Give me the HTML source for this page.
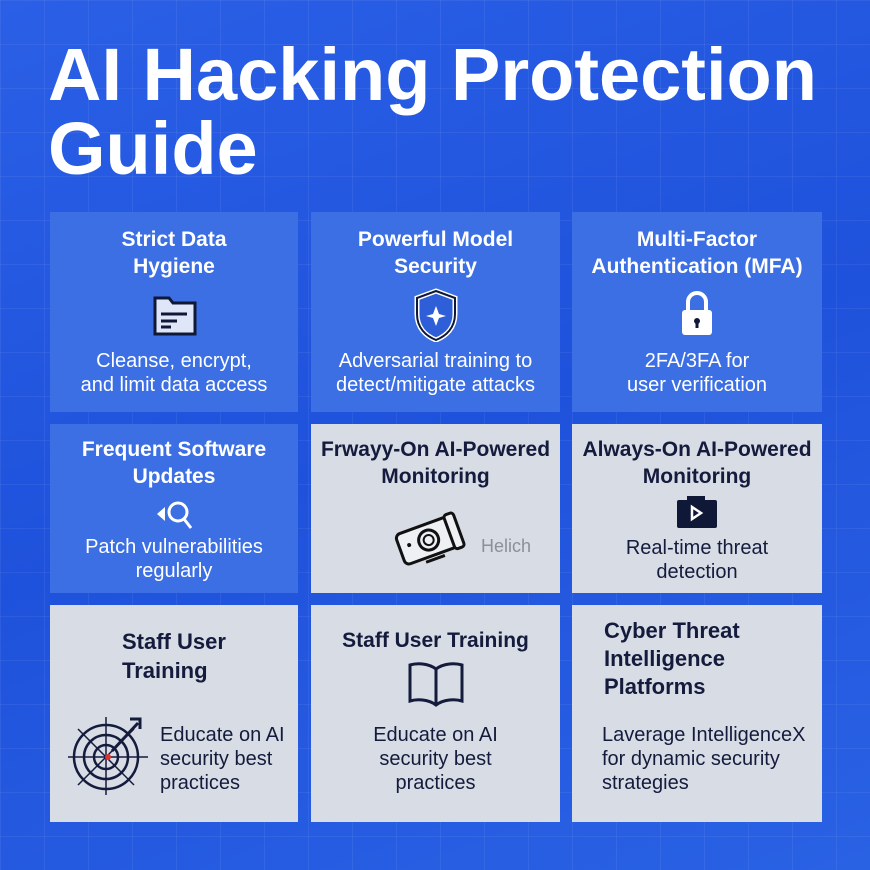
<!DOCTYPE html>
<html><head><style>
body{margin:0;width:870px;height:870px;overflow:hidden;font-family:"Liberation Sans",sans-serif;}
#bg{position:absolute;left:0;top:0;width:870px;height:870px;
background-image:linear-gradient(rgba(255,255,255,0.06) 1px,transparent 1px),linear-gradient(90deg,rgba(255,255,255,0.06) 1px,transparent 1px),linear-gradient(160deg,#2a5fe6 0%,#1f52dc 50%,#2a62e4 100%);
background-size:44px 44px,44px 44px,100% 100%;}
h1{position:absolute;left:48px;top:38px;margin:0;color:#fff;font-size:74px;line-height:74px;font-weight:bold;letter-spacing:0px;white-space:nowrap;}
.c{position:absolute;box-sizing:border-box;text-align:center;}
.b{background:#3b6fe3;color:#fff;}
.g{background:#d8dde5;color:#141b3c;}
.t{position:absolute;left:0;right:0;font-weight:bold;font-size:21px;line-height:27px;}
.d{position:absolute;left:0;right:0;font-size:20px;line-height:24px;}
svg{position:absolute;}
</style></head><body>
<div id="bg"></div>
<h1>AI Hacking Protection<br>Guide</h1>

<div class="c b" style="left:50px;top:212px;width:248px;height:200px">
<div class="t" style="top:14px">Strict Data<br>Hygiene</div>
<svg style="left:103px;top:82px" width="44" height="42" viewBox="0 0 44 42"><path d="M2 4h14l4 5h22v31H2z" fill="#dfe6f8" stroke="#101838" stroke-width="3"/><path d="M8 20h26M8 27h16M8 33h10" stroke="#101838" stroke-width="3"/></svg>
<div class="d" style="top:137px">Cleanse, encrypt,<br>and limit data access</div></div>

<div class="c b" style="left:311px;top:212px;width:249px;height:200px">
<div class="t" style="top:14px">Powerful Model<br>Security</div>
<svg style="left:102px;top:76px" width="46" height="54" viewBox="0 0 46 54"><path d="M23 3L42 10v16c0 14-9 22-19 26C13 48 4 40 4 26V10z" fill="#2f5fd8" stroke="#fff" stroke-width="5"/><path d="M23 3L42 10v16c0 14-9 22-19 26C13 48 4 40 4 26V10z" fill="none" stroke="#101838" stroke-width="2"/><path d="M23 18l3 8 7 2-7 2-3 8-3-8-7-2 7-2z" fill="#fff"/></svg>
<div class="d" style="top:137px">Adversarial training to<br>detect/mitigate attacks</div></div>

<div class="c b" style="left:572px;top:212px;width:250px;height:200px">
<div class="t" style="top:14px">Multi-Factor<br>Authentication (MFA)</div>
<svg style="left:107px;top:78px" width="36" height="48" viewBox="0 0 36 48"><path d="M9 20V12a9 9 0 0118 0v8" fill="none" stroke="#fff" stroke-width="4"/><rect x="3" y="20" width="30" height="25" rx="3" fill="#fff"/><circle cx="18" cy="31" r="3" fill="#101838"/><rect x="16.5" y="31" width="3" height="7" fill="#101838"/></svg>
<div class="d" style="top:137px">2FA/3FA for<br>user verification</div></div>

<div class="c b" style="left:50px;top:424px;width:248px;height:169px">
<div class="t" style="top:12px">Frequent Software<br>Updates</div>
<svg style="left:104px;top:74px" width="40" height="34" viewBox="0 0 40 34"><circle cx="24" cy="14" r="9" fill="none" stroke="#fff" stroke-width="3"/><path d="M30 21l7 9" stroke="#fff" stroke-width="3"/><path d="M3 16l8-7v14z" fill="#fff"/></svg>
<div class="d" style="top:111px">Patch vulnerabilities<br>regularly</div></div>

<div class="c g" style="left:311px;top:424px;width:249px;height:169px">
<div class="t" style="top:12px">Frwayy-On AI-Powered<br>Monitoring</div>
<svg style="left:80px;top:86px" width="76" height="62" viewBox="0 0 76 62"><g transform="rotate(-20 38 31)"><rect x="8" y="14" width="56" height="32" rx="5" fill="#eef0f4" stroke="#111" stroke-width="3"/><circle cx="38" cy="30" r="10" fill="none" stroke="#111" stroke-width="3"/><circle cx="38" cy="30" r="5" fill="none" stroke="#111" stroke-width="2"/><rect x="60" y="12" width="10" height="36" rx="3" fill="#eef0f4" stroke="#111" stroke-width="3"/><circle cx="18" cy="28" r="2" fill="#111"/><path d="M28 50h20" stroke="#111" stroke-width="3"/></g></svg>
<div style="position:absolute;left:170px;top:112px;font-size:18px;color:#8a8f99">Helich</div></div>

<div class="c g" style="left:572px;top:424px;width:250px;height:169px">
<div class="t" style="top:12px">Always-On AI-Powered<br>Monitoring</div>
<svg style="left:103px;top:70px" width="44" height="34" viewBox="0 0 44 34"><rect x="2" y="6" width="40" height="28" rx="2" fill="#101838"/><rect x="12" y="2" width="18" height="6" fill="#101838"/><path d="M17 13v12l9-6z" fill="none" stroke="#fff" stroke-width="2.5"/></svg>
<div class="d" style="top:112px">Real-time threat<br>detection</div></div>

<div class="c g" style="left:50px;top:605px;width:248px;height:217px">
<div class="t" style="top:22px;left:72px;text-align:left;font-size:22px;line-height:29px">Staff User<br>Training</div>
<svg style="left:18px;top:108px" width="82" height="82" viewBox="0 0 82 82"><circle cx="38" cy="44" r="32" fill="none" stroke="#141b3c" stroke-width="2.5"/><circle cx="38" cy="44" r="22" fill="none" stroke="#141b3c" stroke-width="2.5"/><circle cx="38" cy="44" r="12" fill="none" stroke="#141b3c" stroke-width="2.5"/><path d="M10 16l56 56M66 16L10 72M38 4v80M0 44h80" stroke="#141b3c" stroke-width="1.5"/><path d="M44 38l26-28" stroke="#141b3c" stroke-width="3"/><path d="M62 6h10v10" fill="none" stroke="#141b3c" stroke-width="3"/><circle cx="40" cy="44" r="3" fill="#d33"/></svg>
<div class="d" style="top:118px;left:110px;text-align:left">Educate on AI<br>security best<br>practices</div></div>

<div class="c g" style="left:311px;top:605px;width:249px;height:217px">
<div class="t" style="top:22px">Staff User Training</div>
<svg style="left:96px;top:56px" width="58" height="46" viewBox="0 0 58 46"><path d="M29 8C21 2 10 2 3 4v36c7-2 18-2 26 4 8-6 19-6 26-4V4C48 2 37 2 29 8z" fill="none" stroke="#141b3c" stroke-width="3"/><path d="M29 8v36" stroke="#141b3c" stroke-width="3"/></svg>
<div class="d" style="top:118px">Educate on AI<br>security best<br>practices</div></div>

<div class="c g" style="left:572px;top:605px;width:250px;height:217px">
<div class="t" style="top:12px;left:32px;text-align:left;font-size:22px;line-height:28px">Cyber Threat<br>Intelligence<br>Platforms</div>
<div class="d" style="top:118px;left:30px;text-align:left">Laverage IntelligenceX<br>for dynamic security<br>strategies</div></div>
</body></html>
